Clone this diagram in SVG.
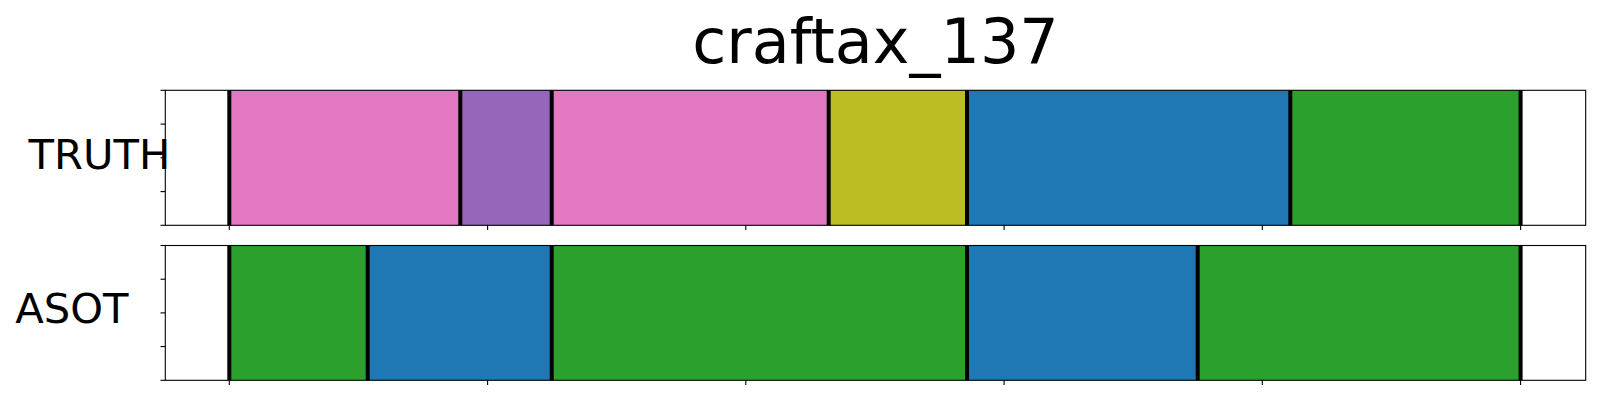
<svg xmlns="http://www.w3.org/2000/svg" width="1600" height="400" viewBox="0 0 1600 400">
<style>
.t{font-family:"DejaVu Sans","Liberation Sans",sans-serif;fill:#000}
.b{stroke:#000;stroke-width:4}
.f{fill:none;stroke:#000;stroke-width:1.1}
.k{stroke:#000;stroke-width:1.1}
</style>
<rect width="1600" height="400" fill="#fff"/>
<text class="t" x="875.5" y="63.3" font-size="62" text-anchor="middle">craftax_137</text>
<g id="truth">
<rect x="229.3" y="90.3" width="231" height="135" fill="#e377c2"/>
<rect x="460.3" y="90.3" width="91.4" height="135" fill="#9467bd"/>
<rect x="551.7" y="90.3" width="277" height="135" fill="#e377c2"/>
<rect x="828.7" y="90.3" width="138.3" height="135" fill="#bcbd22"/>
<rect x="967" y="90.3" width="323.3" height="135" fill="#1f77b4"/>
<rect x="1290.3" y="90.3" width="230.3" height="135" fill="#2ca02c"/>
<g class="b">
<line x1="229.3" y1="90.3" x2="229.3" y2="225.3"/>
<line x1="460.3" y1="90.3" x2="460.3" y2="225.3"/>
<line x1="551.7" y1="90.3" x2="551.7" y2="225.3"/>
<line x1="828.7" y1="90.3" x2="828.7" y2="225.3"/>
<line x1="967" y1="90.3" x2="967" y2="225.3"/>
<line x1="1290.3" y1="90.3" x2="1290.3" y2="225.3"/>
<line x1="1520.6" y1="90.3" x2="1520.6" y2="225.3"/>
</g>
<rect class="f" x="165.3" y="90.3" width="1420.4" height="135"/>
<g class="k">
<line x1="160.5" y1="90.3" x2="165.3" y2="90.3"/>
<line x1="160.5" y1="124.1" x2="165.3" y2="124.1"/>
<line x1="160.5" y1="157.8" x2="165.3" y2="157.8"/>
<line x1="160.5" y1="191.6" x2="165.3" y2="191.6"/>
<line x1="160.5" y1="225.3" x2="165.3" y2="225.3"/>
<line x1="229.3" y1="225.3" x2="229.3" y2="230.1"/>
<line x1="487.6" y1="225.3" x2="487.6" y2="230.1"/>
<line x1="745.8" y1="225.3" x2="745.8" y2="230.1"/>
<line x1="1004.1" y1="225.3" x2="1004.1" y2="230.1"/>
<line x1="1262.3" y1="225.3" x2="1262.3" y2="230.1"/>
<line x1="1520.6" y1="225.3" x2="1520.6" y2="230.1"/>
</g>
<text class="t" x="28.5" y="169.3" font-size="41.7">TRUTH</text>
</g>
<g id="asot">
<rect x="229.3" y="245.5" width="138.4" height="134.8" fill="#2ca02c"/>
<rect x="367.7" y="245.5" width="184" height="134.8" fill="#1f77b4"/>
<rect x="551.7" y="245.5" width="415.3" height="134.8" fill="#2ca02c"/>
<rect x="967" y="245.5" width="230.7" height="134.8" fill="#1f77b4"/>
<rect x="1197.7" y="245.5" width="322.9" height="134.8" fill="#2ca02c"/>
<g class="b">
<line x1="229.3" y1="245.5" x2="229.3" y2="380.3"/>
<line x1="367.7" y1="245.5" x2="367.7" y2="380.3"/>
<line x1="551.7" y1="245.5" x2="551.7" y2="380.3"/>
<line x1="967" y1="245.5" x2="967" y2="380.3"/>
<line x1="1197.7" y1="245.5" x2="1197.7" y2="380.3"/>
<line x1="1520.6" y1="245.5" x2="1520.6" y2="380.3"/>
</g>
<rect class="f" x="165.3" y="245.5" width="1420.4" height="134.8"/>
<g class="k">
<line x1="160.5" y1="245.5" x2="165.3" y2="245.5"/>
<line x1="160.5" y1="279.2" x2="165.3" y2="279.2"/>
<line x1="160.5" y1="312.9" x2="165.3" y2="312.9"/>
<line x1="160.5" y1="346.6" x2="165.3" y2="346.6"/>
<line x1="160.5" y1="380.3" x2="165.3" y2="380.3"/>
<line x1="229.3" y1="380.3" x2="229.3" y2="385.1"/>
<line x1="487.6" y1="380.3" x2="487.6" y2="385.1"/>
<line x1="745.8" y1="380.3" x2="745.8" y2="385.1"/>
<line x1="1004.1" y1="380.3" x2="1004.1" y2="385.1"/>
<line x1="1262.3" y1="380.3" x2="1262.3" y2="385.1"/>
<line x1="1520.6" y1="380.3" x2="1520.6" y2="385.1"/>
</g>
<text class="t" x="15.3" y="323.3" font-size="41.7">ASOT</text>
</g>
</svg>
